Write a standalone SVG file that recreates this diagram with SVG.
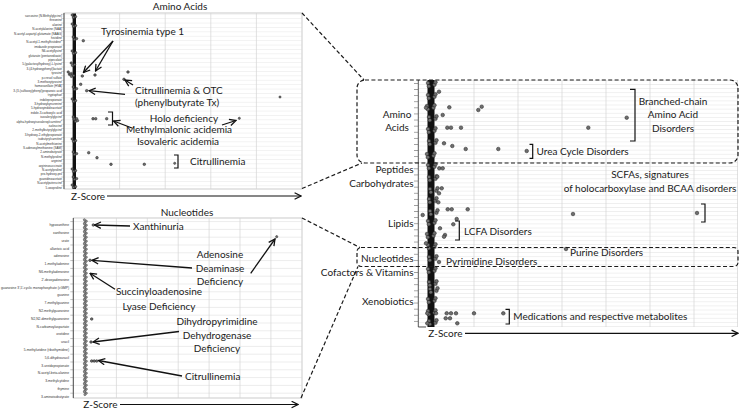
<svg xmlns="http://www.w3.org/2000/svg" xmlns:xlink="http://www.w3.org/1999/xlink" width="741" height="409" viewBox="0 0 741 409">
<defs>
<style>
.t{font-family:Lato,"Open Sans","Liberation Sans",sans-serif;font-size:10px;fill:#1a1a1a}
.tm{text-anchor:middle}
.te{text-anchor:end}
.lb{font-family:"Liberation Sans",Arial,sans-serif;font-size:3px;fill:#333;text-anchor:end}
.lbn{font-family:"Liberation Sans",Arial,sans-serif;font-size:3.3px;fill:#333;text-anchor:end}
.frame{fill:#fff;stroke:#bdbdbd;stroke-width:0.8}
.vg{stroke:#d4d4d4;stroke-width:0.7}
.ax{stroke:#444;stroke-width:0.9;fill:none}
.dash{stroke:#1a1a1a;stroke-width:1.2;stroke-dasharray:4 2.4;fill:none}
.arr{stroke:#111;stroke-width:1.3;fill:none;marker-end:url(#ah)}
.zarr{stroke:#111;stroke-width:1.2;fill:none;marker-end:url(#ah)}
.br{stroke:#111;stroke-width:1.2;fill:none}
.p{fill:#6e6e6e;stroke:#1e1e1e;stroke-width:0.5}
.q{fill:#9a9a9a;stroke:#2a2a2a;stroke-width:0.45}
.band{fill:#111}
</style>
<marker id="ah" viewBox="0 0 10 10" refX="9" refY="5" markerWidth="8" markerHeight="8" orient="auto" markerUnits="userSpaceOnUse">
<path d="M1,1 L9,5 L1,9" fill="none" stroke="#111" stroke-width="1.6"/>
</marker>
<pattern id="gAA" patternUnits="userSpaceOnUse" x="0" y="13.8" width="20" height="4.4"><line x1="0" y1="0.2" x2="20" y2="0.2" stroke="#dcdcdc" stroke-width="0.5"/></pattern>
<pattern id="gNU" patternUnits="userSpaceOnUse" x="0" y="221.1" width="20" height="7.8"><line x1="0" y1="0.3" x2="20" y2="0.3" stroke="#d8d8d8" stroke-width="0.6"/></pattern>
<pattern id="gR" patternUnits="userSpaceOnUse" x="0" y="80" width="20" height="4.1"><line x1="0" y1="0.3" x2="20" y2="0.3" stroke="#dcdcdc" stroke-width="0.55"/></pattern>
<pattern id="tkR" patternUnits="userSpaceOnUse" x="0" y="83" width="5" height="6.1"><line x1="0" y1="0.3" x2="5" y2="0.3" stroke="#444" stroke-width="0.6"/></pattern>
<pattern id="tkAA" patternUnits="userSpaceOnUse" x="0" y="13.8" width="3" height="4.4"><line x1="0" y1="0.2" x2="3" y2="0.2" stroke="#666" stroke-width="0.4"/></pattern>
<pattern id="tkNU" patternUnits="userSpaceOnUse" x="0" y="221.1" width="3" height="7.8"><line x1="0" y1="0.3" x2="3" y2="0.3" stroke="#666" stroke-width="0.5"/></pattern>
<symbol id="nc" overflow="visible"><circle class="q" cx="-0.9" cy="-1.2" r="1.1"/><circle class="q" cx="1" cy="0.2" r="1.1"/><circle class="q" cx="-0.4" cy="1.6" r="1.1"/></symbol>
<symbol id="ac" overflow="visible"><circle class="p" cx="-1.8" cy="-1" r="1.2"/><circle class="p" cx="1.6" cy="0.6" r="1.2"/><circle class="p" cx="-0.5" cy="1.4" r="1.2"/></symbol>
<symbol id="rc" overflow="visible"><circle class="p" cx="-3" cy="-1" r="1.8"/><circle class="p" cx="3.5" cy="0.8" r="1.8"/><circle class="p" cx="-2.2" cy="2.2" r="1.8"/><circle class="p" cx="4.5" cy="-1.8" r="1.8"/></symbol>
</defs>
<rect width="741" height="409" fill="#fff"/>

<!-- ================= Amino Acids panel ================= -->
<g id="panel-amino-acids">
<text class="t tm" x="180" y="10">Amino Acids</text>
<rect class="frame" x="64" y="13" width="238" height="176"/>
<rect x="64" y="13" width="238" height="176" fill="url(#gAA)"/>
<line class="vg" x1="119.6" y1="13" x2="119.6" y2="189"/>
<line class="vg" x1="165.2" y1="13" x2="165.2" y2="189"/>
<line class="vg" x1="210.8" y1="13" x2="210.8" y2="189"/>
<line class="vg" x1="256.4" y1="13" x2="256.4" y2="189"/>
<rect x="61" y="13" width="3" height="176" fill="url(#tkAA)"/>
<line class="ax" x1="64" y1="13" x2="64" y2="189"/>
<g>
<text class="lb" x="62" y="17">sarcosine (N-Methylglycine)</text>
<text class="lb" x="62" y="21.4">threonine</text>
<text class="lb" x="62" y="25.8">alanine</text>
<text class="lb" x="62" y="30.2">N-acetylalanine (NAA)</text>
<text class="lb" x="62" y="34.6">N-acetyl-aspartyl-glutamate (NAAG)</text>
<text class="lb" x="62" y="39">histidine</text>
<text class="lb" x="62" y="43.4">N-acetyl-1-methylhistidine*</text>
<text class="lb" x="62" y="47.8">imidazole propionate</text>
<text class="lb" x="62" y="52.2">N6-acetyllysine</text>
<text class="lb" x="62" y="56.6">glutarate (pentanedioate)</text>
<text class="lb" x="62" y="61">pipecolate</text>
<text class="lb" x="62" y="65.4">5-(galactosylhydroxy)-L-lysine</text>
<text class="lb" x="62" y="69.8">3-(4-hydroxyphenyl)lactate</text>
<text class="lb" x="62" y="74.2">tyrosine</text>
<text class="lb" x="62" y="78.6">p-cresol sulfate</text>
<text class="lb" x="62" y="83">3-methoxytyrosine</text>
<text class="lb" x="62" y="87.4">homovanillate (HVA)</text>
<text class="lb" x="62" y="91.8">3-(3-(sulfooxy)phenyl)propanoic acid</text>
<text class="lb" x="62" y="96.2">tryptophan</text>
<text class="lb" x="62" y="100.6">indolepropionate</text>
<text class="lb" x="62" y="105">3-hydroxykynurenine</text>
<text class="lb" x="62" y="109.4">5-hydroxyindoleacetate</text>
<text class="lb" x="62" y="113.8">indole-3-carboxylic acid</text>
<text class="lb" x="62" y="118.2">isovalerylglycine</text>
<text class="lb" x="62" y="122.6">alpha-hydroxyisovaleroylcarnitine*</text>
<text class="lb" x="62" y="127">isoleucine</text>
<text class="lb" x="62" y="131.4">2-methylbutyrylglycine</text>
<text class="lb" x="62" y="135.8">3-hydroxy-2-ethylpropionate</text>
<text class="lb" x="62" y="140.2">isobutyrylcarnitine</text>
<text class="lb" x="62" y="144.6">N-acetylmethionine</text>
<text class="lb" x="62" y="149">S-adenosylmethionine (SAM)</text>
<text class="lb" x="62" y="153.4">2-aminobutyrate</text>
<text class="lb" x="62" y="157.8">N-methylproline</text>
<text class="lb" x="62" y="162.2">arginine</text>
<text class="lb" x="62" y="166.6">argininosuccinate</text>
<text class="lb" x="62" y="171">N-acetylproline</text>
<text class="lb" x="62" y="175.4">pro-hydroxy-pro</text>
<text class="lb" x="62" y="179.8">guanidinoacetate</text>
<text class="lb" x="62" y="184.2">N-acetylputrescine</text>
<text class="lb" x="62" y="188.6">5-oxoproline</text>
</g>
<rect class="band" x="72.6" y="13.5" width="3.4" height="175.5"/>
<g>
<use href="#ac" x="74" y="16"/><use href="#ac" x="74" y="25"/><use href="#ac" x="75" y="38"/><use href="#ac" x="74" y="52"/>
<use href="#ac" x="73" y="64"/><use href="#ac" x="70" y="73"/><use href="#ac" x="72" y="75"/><use href="#ac" x="75" y="88"/>
<use href="#ac" x="74" y="100"/><use href="#ac" x="75" y="118"/><use href="#ac" x="76" y="120"/><use href="#ac" x="74" y="140"/>
<use href="#ac" x="75" y="153"/><use href="#ac" x="74" y="170"/><use href="#ac" x="75" y="178"/><use href="#ac" x="74" y="186"/>
</g>
<g>
<circle class="p" cx="83.3" cy="40.7" r="1.3"/>
<circle class="p" cx="128" cy="72" r="1.3"/>
<circle class="p" cx="124" cy="79.3" r="1.3"/>
<circle class="p" cx="95" cy="75" r="1.3"/>
<circle class="p" cx="82.3" cy="76" r="1.3"/>
<circle class="p" cx="80.7" cy="84.3" r="1.3"/>
<circle class="p" cx="86.7" cy="90.7" r="1.3"/>
<circle class="p" cx="280" cy="97" r="1.1"/>
<circle class="p" cx="93" cy="118.7" r="1.3"/>
<circle class="p" cx="95.7" cy="118.7" r="1.3"/>
<circle class="p" cx="106.7" cy="118.7" r="1.3"/>
<circle class="p" cx="239.3" cy="118.3" r="1.1"/>
<circle class="p" cx="88.7" cy="152.7" r="1.3"/>
<circle class="p" cx="97" cy="157.7" r="1.3"/>
<circle class="p" cx="111" cy="164.3" r="1.3"/>
<circle class="p" cx="144.3" cy="164.3" r="1.3"/>
<circle class="p" cx="174.7" cy="163.3" r="1.1"/>
</g>
<text class="t" x="101" y="35">Tyrosinemia type 1</text>
<text class="t" x="135" y="93.5">Citrullinemia &amp; OTC</text>
<text class="t" x="135" y="105.5">(phenylbutyrate Tx)</text>
<text class="t tm" x="184" y="122">Holo deficiency</text>
<text class="t tm" x="179" y="133">Methylmalonic acidemia</text>
<text class="t tm" x="178" y="144.5">Isovaleric acidemia</text>
<text class="t" x="190" y="165">Citrullinemia</text>
<path class="br" d="M108,112 H112.5 V125 H108"/>
<path class="br" d="M174,155 H178 V168 H174"/>
<text class="t" x="71" y="199.5">Z-Score</text>
<line class="zarr" x1="107" y1="196" x2="301" y2="196"/>
</g>

<!-- ================= Nucleotides panel ================= -->
<g id="panel-nucleotides">
<text class="t tm" x="187" y="216">Nucleotides</text>
<rect class="frame" x="73.3" y="218" width="228.7" height="180"/>
<rect x="73.3" y="218" width="228.7" height="180" fill="url(#gNU)"/>
<line class="vg" x1="116.4" y1="218" x2="116.4" y2="398"/>
<line class="vg" x1="147.3" y1="218" x2="147.3" y2="398"/>
<line class="vg" x1="178.2" y1="218" x2="178.2" y2="398"/>
<line class="vg" x1="209.1" y1="218" x2="209.1" y2="398"/>
<line class="vg" x1="240" y1="218" x2="240" y2="398"/>
<line class="vg" x1="270.9" y1="218" x2="270.9" y2="398"/>
<rect x="70.3" y="218" width="3" height="180" fill="url(#tkNU)"/>
<line class="ax" x1="73.3" y1="218" x2="73.3" y2="398"/>
<g>
<text class="lbn" x="69" y="226.2">hypoxanthine</text>
<text class="lbn" x="69" y="234">xanthosine</text>
<text class="lbn" x="69" y="241.8">urate</text>
<text class="lbn" x="69" y="249.6">allantoic acid</text>
<text class="lbn" x="69" y="257.4">adenosine</text>
<text class="lbn" x="69" y="265.2">1-methyladenine</text>
<text class="lbn" x="69" y="273">N6-methyladenosine</text>
<text class="lbn" x="69" y="280.8">2'-deoxyadenosine</text>
<text class="lbn" x="69" y="288.6">guanosine 3',5'-cyclic monophosphate (cGMP)</text>
<text class="lbn" x="69" y="296.4">guanine</text>
<text class="lbn" x="69" y="304.2">7-methylguanine</text>
<text class="lbn" x="69" y="312">N2-methylguanosine</text>
<text class="lbn" x="69" y="319.8">N2,N2-dimethylguanosine</text>
<text class="lbn" x="69" y="327.6">N-carbamoylaspartate</text>
<text class="lbn" x="69" y="335.4">orotidine</text>
<text class="lbn" x="69" y="343.2">uracil</text>
<text class="lbn" x="69" y="351">5-methyluridine (ribothymidine)</text>
<text class="lbn" x="69" y="358.8">5,6-dihydrouracil</text>
<text class="lbn" x="69" y="366.6">3-ureidopropionate</text>
<text class="lbn" x="69" y="374.4">N-acetyl-beta-alanine</text>
<text class="lbn" x="69" y="382.2">3-methylcytidine</text>
<text class="lbn" x="69" y="390">thymine</text>
<text class="lbn" x="69" y="397.8">3-aminoisobutyrate</text>
</g>
<g>
<use href="#nc" x="85.3" y="221"/><use href="#nc" x="85.3" y="225"/><use href="#nc" x="85.3" y="229"/><use href="#nc" x="85.3" y="233"/>
<use href="#nc" x="85.3" y="237"/><use href="#nc" x="85.3" y="241"/><use href="#nc" x="85.3" y="245"/><use href="#nc" x="85.3" y="249"/>
<use href="#nc" x="85.3" y="253"/><use href="#nc" x="85.3" y="257"/><use href="#nc" x="85.3" y="261"/><use href="#nc" x="85.3" y="265"/>
<use href="#nc" x="85.3" y="269"/><use href="#nc" x="85.3" y="273"/><use href="#nc" x="85.3" y="277"/><use href="#nc" x="85.3" y="281"/>
<use href="#nc" x="85.3" y="285"/><use href="#nc" x="85.3" y="289"/><use href="#nc" x="85.3" y="293"/><use href="#nc" x="85.3" y="297"/>
<use href="#nc" x="85.3" y="301"/><use href="#nc" x="85.3" y="305"/><use href="#nc" x="85.3" y="309"/><use href="#nc" x="85.3" y="313"/>
<use href="#nc" x="85.3" y="317"/><use href="#nc" x="85.3" y="321"/><use href="#nc" x="85.3" y="325"/><use href="#nc" x="85.3" y="329"/>
<use href="#nc" x="85.3" y="333"/><use href="#nc" x="85.3" y="337"/><use href="#nc" x="85.3" y="341"/><use href="#nc" x="85.3" y="345"/>
<use href="#nc" x="85.3" y="349"/><use href="#nc" x="85.3" y="353"/><use href="#nc" x="85.3" y="357"/><use href="#nc" x="85.3" y="361"/>
<use href="#nc" x="85.3" y="365"/><use href="#nc" x="85.3" y="369"/><use href="#nc" x="85.3" y="373"/><use href="#nc" x="85.3" y="377"/>
<use href="#nc" x="85.3" y="381"/><use href="#nc" x="85.3" y="385"/><use href="#nc" x="85.3" y="389"/><use href="#nc" x="85.3" y="393"/>
</g>
<g>
<circle class="p" cx="93.3" cy="225" r="1.3"/>
<circle class="p" cx="90" cy="260.3" r="1.3"/>
<circle class="p" cx="91.7" cy="319" r="1.3"/>
<circle class="p" cx="91" cy="342" r="1.3"/>
<circle class="p" cx="91.7" cy="361" r="1.3"/>
<circle class="p" cx="94.2" cy="361" r="1.3"/>
<circle class="p" cx="96.7" cy="361" r="1.3"/>
<circle class="p" cx="276.7" cy="236.7" r="1.1"/>
</g>
<text class="t" x="133" y="230.3">Xanthinuria</text>
<text class="t tm" x="220" y="257.5">Adenosine</text>
<text class="t tm" x="220" y="271.5">Deaminase</text>
<text class="t tm" x="220" y="284.5">Deficiency</text>
<text class="t tm" x="159" y="295">Succinyloadenosine</text>
<text class="t tm" x="159" y="310">Lyase Deficiency</text>
<text class="t tm" x="217" y="325">Dihydropyrimidine</text>
<text class="t tm" x="217" y="338.5">Dehydrogenase</text>
<text class="t tm" x="217" y="351.5">Deficiency</text>
<text class="t" x="185" y="379.5">Citrullinemia</text>
<text class="t" x="83.3" y="407.5">Z-Score</text>
<line class="zarr" x1="120" y1="404.5" x2="298" y2="404.5"/>
</g>

<!-- ================= Overview panel ================= -->
<g id="panel-overview">
<rect x="418" y="80" width="320" height="247" fill="url(#gR)"/>
<line class="vg" x1="474" y1="80" x2="474" y2="327"/>
<line class="vg" x1="518" y1="80" x2="518" y2="327"/>
<line class="vg" x1="562" y1="80" x2="562" y2="327"/>
<line class="vg" x1="606" y1="80" x2="606" y2="327"/>
<line class="vg" x1="650" y1="80" x2="650" y2="327"/>
<line class="vg" x1="694" y1="80" x2="694" y2="327"/>
<line class="vg" x1="737.5" y1="80" x2="737.5" y2="327"/>
<rect x="414" y="80" width="4" height="247" fill="url(#tkR)"/>
<line class="ax" x1="418.3" y1="80" x2="418.3" y2="327"/>
<line class="ax" x1="418.3" y1="327" x2="426" y2="327"/>
<text class="t tm" x="397" y="117.5">Amino</text>
<text class="t tm" x="397" y="131">Acids</text>
<text class="t te" x="413.5" y="173">Peptides</text>
<text class="t te" x="413.5" y="186.5">Carbohydrates</text>
<text class="t te" x="413.5" y="227">Lipids</text>
<text class="t te" x="413.5" y="261.5">Nucleotides</text>
<text class="t te" x="413.5" y="276">Cofactors &amp; Vitamins</text>
<text class="t te" x="413.5" y="305">Xenobiotics</text>
<rect class="band" x="427.5" y="80" width="7" height="247"/>
<g>
<use href="#rc" x="431" y="84"/><use href="#rc" x="431" y="96"/><use href="#rc" x="430" y="107"/><use href="#rc" x="432" y="118"/>
<use href="#rc" x="431" y="130"/><use href="#rc" x="432" y="142"/><use href="#rc" x="430" y="155"/><use href="#rc" x="431" y="166"/>
<use href="#rc" x="432" y="178"/><use href="#rc" x="433" y="190"/><use href="#rc" x="432" y="200"/><use href="#rc" x="433" y="212"/>
<use href="#rc" x="431" y="222"/><use href="#rc" x="430" y="235"/><use href="#rc" x="431" y="246"/><use href="#rc" x="432" y="258"/>
<use href="#rc" x="431" y="270"/><use href="#rc" x="432" y="283"/><use href="#rc" x="433" y="290"/><use href="#rc" x="431" y="300"/>
<use href="#rc" x="431" y="312"/><use href="#rc" x="432" y="322"/>
</g>
<g>
<circle class="p" cx="439" cy="91.7" r="1.8"/>
<circle class="p" cx="426" cy="107.7" r="1.8"/>
<circle class="p" cx="449.3" cy="107.3" r="1.8"/>
<circle class="p" cx="478.3" cy="110" r="1.8"/>
<circle class="p" cx="481.7" cy="106.7" r="1.8"/>
<circle class="p" cx="442.7" cy="115" r="1.8"/>
<circle class="p" cx="447.3" cy="127.7" r="1.8"/>
<circle class="p" cx="451" cy="127.7" r="1.8"/>
<circle class="p" cx="461" cy="127.7" r="1.8"/>
<circle class="p" cx="444" cy="143.3" r="1.8"/>
<circle class="p" cx="452.3" cy="146" r="1.8"/>
<circle class="p" cx="465.7" cy="149" r="1.8"/>
<circle class="p" cx="498.3" cy="149" r="1.8"/>
<circle class="p" cx="526.7" cy="151" r="1.8"/>
<circle class="p" cx="588.3" cy="127.7" r="1.8"/>
<circle class="p" cx="626.7" cy="117.7" r="1.8"/>
<circle class="p" cx="439.3" cy="168.3" r="1.8"/>
<circle class="p" cx="442.7" cy="168.3" r="1.8"/>
<circle class="p" cx="437.3" cy="176.7" r="1.8"/>
<circle class="p" cx="441.7" cy="188.3" r="1.8"/>
<circle class="p" cx="439" cy="193.3" r="1.8"/>
<circle class="p" cx="438.3" cy="202.3" r="1.8"/>
<circle class="p" cx="447.7" cy="209.3" r="1.8"/>
<circle class="p" cx="451.7" cy="209.3" r="1.8"/>
<circle class="p" cx="467.7" cy="209.3" r="1.8"/>
<circle class="p" cx="422.7" cy="215" r="1.8"/>
<circle class="p" cx="456.7" cy="219" r="1.8"/>
<circle class="p" cx="453.3" cy="224.3" r="1.8"/>
<circle class="p" cx="440" cy="228.3" r="1.8"/>
<circle class="p" cx="445" cy="235" r="1.8"/>
<circle class="p" cx="444" cy="236.7" r="1.8"/>
<circle class="p" cx="426" cy="243.3" r="1.8"/>
<circle class="p" cx="573" cy="214" r="1.8"/>
<circle class="p" cx="697" cy="213" r="1.8"/>
<circle class="p" cx="566" cy="249" r="1.8"/>
<circle class="p" cx="439" cy="262" r="1.8"/>
<circle class="p" cx="427.3" cy="313.3" r="1.8"/>
<circle class="p" cx="436" cy="313.3" r="1.8"/>
<circle class="p" cx="446.7" cy="313.3" r="1.8"/>
<circle class="p" cx="451" cy="313.3" r="1.8"/>
<circle class="p" cx="456" cy="313.3" r="1.8"/>
<circle class="p" cx="474" cy="313.3" r="1.8"/>
<circle class="p" cx="503.3" cy="313.3" r="1.8"/>
<circle class="p" cx="445.7" cy="318.3" r="1.8"/>
<circle class="p" cx="450" cy="318.3" r="1.8"/>
<circle class="p" cx="457.3" cy="323.3" r="1.8"/>
<circle class="p" cx="427.3" cy="323.3" r="1.8"/>
</g>
<path class="br" d="M630,89.3 H635 V141 H630"/>
<text class="t tm" x="673" y="104.5">Branched-chain</text>
<text class="t tm" x="673" y="118">Amino Acid</text>
<text class="t tm" x="673" y="131.5">Disorders</text>
<path class="br" d="M529.5,144.3 H532.7 V158.3 H529.5"/>
<text class="t" x="536.5" y="155.3">Urea Cycle Disorders</text>
<text class="t tm" x="650" y="177.5">SCFAs, signatures</text>
<text class="t tm" x="650" y="191.5">of holocarboxylase and BCAA disorders</text>
<path class="br" d="M701,204 H705 V222 H701"/>
<path class="br" d="M455,221 H459.3 V240 H455"/>
<text class="t" x="464" y="234.5">LCFA Disorders</text>
<text class="t" x="570" y="256">Purine Disorders</text>
<text class="t" x="446" y="264.5">Pyrimidine Disorders</text>
<path class="br" d="M505.5,309.3 H509.3 V324 H505.5"/>
<text class="t" x="513.3" y="320">Medications and respective metabolites</text>
<text class="t" x="428.3" y="336.8">Z-Score</text>
<line class="zarr" x1="465" y1="333.3" x2="738" y2="333.3"/>
</g>

<!-- ================= Connectors ================= -->
<g id="connectors">
<rect class="dash" x="357" y="80" width="381" height="83" rx="8"/>
<rect class="dash" x="357" y="247.5" width="381" height="19" rx="4"/>
<line class="dash" x1="302" y1="13" x2="364" y2="80"/>
<line class="dash" x1="302" y1="188.5" x2="362" y2="163"/>
<line class="dash" x1="302" y1="218" x2="360" y2="247.5"/>
<line class="dash" x1="301" y1="398" x2="358" y2="266.5"/>
<line class="arr" x1="113" y1="41" x2="83.5" y2="72.5"/>
<line class="arr" x1="113" y1="41" x2="95.5" y2="71"/>
<line class="arr" x1="133" y1="85" x2="125" y2="80"/>
<line class="arr" x1="125" y1="94.3" x2="89" y2="90.7"/>
<line class="arr" x1="222" y1="125" x2="236" y2="120.5"/>
<line class="arr" x1="132" y1="128" x2="113.5" y2="121"/>
<line class="arr" x1="130" y1="226" x2="94.5" y2="225"/>
<line class="arr" x1="192" y1="268" x2="92" y2="260.3"/>
<line class="arr" x1="250.7" y1="273.3" x2="275" y2="239"/>
<line class="arr" x1="115" y1="289.3" x2="90" y2="273.3"/>
<line class="arr" x1="179" y1="331.5" x2="93" y2="342"/>
<line class="arr" x1="182" y1="376" x2="98.5" y2="360.5"/>
</g>
</svg>
